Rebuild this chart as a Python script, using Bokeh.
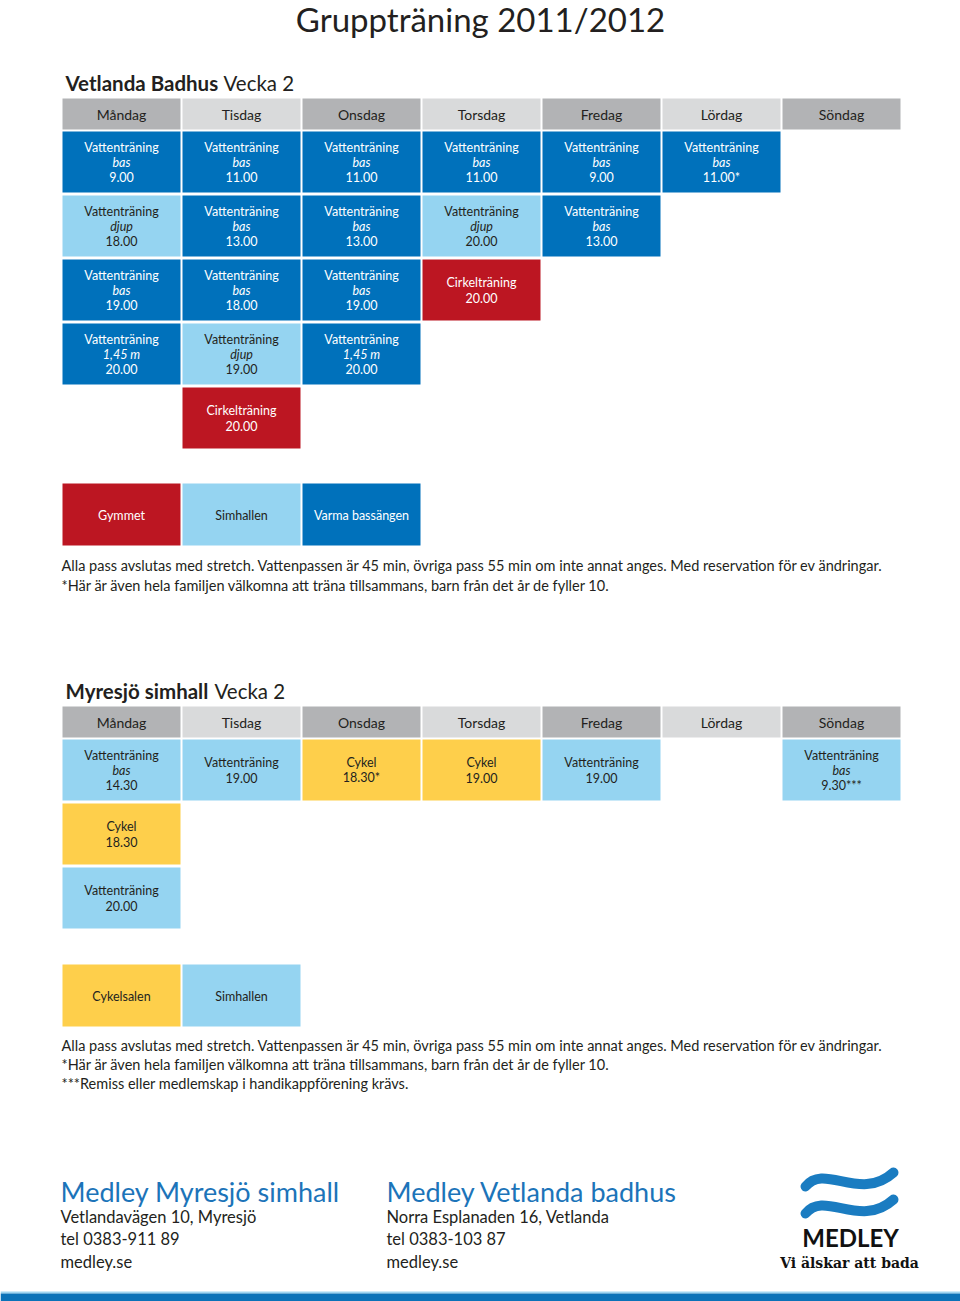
from bokeh.plotting import figure
from bokeh.models import Range1d, ColumnDataSource
from bokeh.core.properties import value
from bokeh.embed import file_html
from bokeh.resources import INLINE

# ---------------- data ----------------
days = ["Måndag", "Tisdag", "Onsdag", "Torsdag", "Fredag", "Lördag", "Söndag"]

# Vetlanda Badhus sessions
t1_day = [0, 0, 0, 0, 1, 1, 1, 1, 1, 2, 2, 2, 2, 3, 3, 3, 4, 4, 5]
t1_slot = [0, 1, 2, 3, 0, 1, 2, 3, 4, 0, 1, 2, 3, 0, 1, 2, 0, 1, 0]
t1_name = ["Vattenträning"] * 8 + ["Cirkelträning"] + ["Vattenträning"] * 6 + ["Cirkelträning"] + ["Vattenträning"] * 3
t1_sub = ["bas", "djup", "bas", "1,45 m", "bas", "bas", "bas", "djup", "",
          "bas", "bas", "bas", "1,45 m", "bas", "djup", "", "bas", "bas", "bas"]
t1_time = ["9.00", "18.00", "19.00", "20.00", "11.00", "13.00", "18.00", "19.00", "20.00",
           "11.00", "13.00", "19.00", "20.00", "11.00", "20.00", "20.00", "9.00", "13.00", "11.00*"]
t1_kind = ["dark", "light", "dark", "dark", "dark", "dark", "dark", "light", "red",
           "dark", "dark", "dark", "dark", "dark", "light", "red", "dark", "dark", "dark"]
t1_legend = ["Gymmet", "Simhallen", "Varma bassängen"]
t1_legend_kind = ["red", "light", "dark"]

# Myresjö simhall sessions
t2_day = [0, 0, 0, 1, 2, 3, 4, 6]
t2_slot = [0, 1, 2, 0, 0, 0, 0, 0]
t2_name = ["Vattenträning", "Cykel", "Vattenträning", "Vattenträning", "Cykel", "Cykel", "Vattenträning", "Vattenträning"]
t2_sub = ["bas", "", "", "", "", "", "", "bas"]
t2_time = ["14.30", "18.30", "20.00", "19.00", "18.30*", "19.00", "19.00", "9.30***"]
t2_kind = ["light", "yellow", "light", "light", "yellow", "yellow", "light", "light"]
t2_legend = ["Cykelsalen", "Simhallen"]
t2_legend_kind = ["yellow", "light"]

note_main = "Alla pass avslutas med stretch. Vattenpassen är 45 min, övriga pass 55 min om inte annat anges. Med reservation för ev ändringar."
note_star = "*Här är även hela familjen välkomna att träna tillsammans, barn från det år de fyller 10."
note_3star = "***Remiss eller medlemskap i handikappförening krävs."

# ---------------- style ----------------
FONT = "Lato"
COL = {"dark": "#0071bb", "light": "#95d4f1", "red": "#bc1622", "yellow": "#fecf4b"}
TXT = {"dark": "white", "light": "#231f20", "red": "white", "yellow": "#231f20"}
HEAD = ["#b2b3b5", "#d9dadb"]
INK = "#231f20"
BLUE = "#1c74b9"

PITCH = 120.0      # px per day column
X0 = 121.0         # page px of Måndag column centre


def X(px):
    return (px - X0) / PITCH


p = figure(width=960, height=1301, x_range=Range1d(X(0), X(960)), y_range=Range1d(1301, 0),
           toolbar_location=None, output_backend="svg", min_border=0)
p.axis.visible = False
p.grid.visible = False
p.outline_line_color = None
p.background_fill_color = "white"


def txt(x, y, t, size, color=INK, style="normal", align="left", font=FONT, baseline="middle"):
    p.text(x=[x], y=[y], text=[t], text_font=value(font), text_font_size=size,
           text_color=color, text_font_style=style, text_align=align, text_baseline=baseline)


def table(head_top, row_top, d_idx, s_idx, names, subs, times, kinds, leg, leg_kind, leg_top):
    cw = 118 / PITCH
    # headers
    p.rect(x=list(range(len(days))), y=[head_top + 15.5] * len(days), width=cw, height=31,
           fill_color=[HEAD[i % 2] for i in range(len(days))], line_color=None)
    p.text(x=list(range(len(days))), y=[head_top + 16] * len(days), text=days,
           text_font=value(FONT), text_font_size="14px", text_color=INK,
           text_align="center", text_baseline="middle")
    # cells
    cy = [row_top + 64 * s + 30.5 for s in s_idx]
    src = ColumnDataSource(dict(x=d_idx, y=cy, fill=[COL[k] for k in kinds],
                                tc=[TXT[k] for k in kinds]))
    p.rect(x="x", y="y", width=cw, height=61, fill_color="fill", line_color=None, source=src)
    l1x, l1y, l1t, l1c = [], [], [], []
    l2x, l2y, l2t, l2c = [], [], [], []
    for d, y, n, s, t, k in zip(d_idx, cy, names, subs, times, kinds):
        if s:
            l1x += [d, d]; l1y += [y - 15, y + 15]; l1t += [n, t]; l1c += [TXT[k]] * 2
            l2x.append(d); l2y.append(y); l2t.append(s); l2c.append(TXT[k])
        else:
            l1x += [d, d]; l1y += [y - 7.5, y + 7.5]; l1t += [n, t]; l1c += [TXT[k]] * 2
    p.text(x=l1x, y=l1y, text=l1t, text_color=l1c, text_font=value(FONT), text_font_size="12.5px",
           text_align="center", text_baseline="middle")
    if l2x:
        p.text(x=l2x, y=l2y, text=l2t, text_color=l2c, text_font=value(FONT), text_font_size="12.5px",
               text_font_style="italic", text_align="center", text_baseline="middle")
    # legend boxes
    lx = list(range(len(leg)))
    p.rect(x=lx, y=[leg_top + 31] * len(leg), width=cw, height=62,
           fill_color=[COL[k] for k in leg_kind], line_color=None)
    p.text(x=lx, y=[leg_top + 31.5] * len(leg), text=leg, text_color=[TXT[k] for k in leg_kind],
           text_font=value(FONT), text_font_size="12.5px", text_align="center", text_baseline="middle")


# title
txt(X(480), 18, "Gruppträning 2011/2012", "33px", align="center")

# section 1
txt(X(65), 82, "Vetlanda Badhus", "20.5px", style="bold")
txt(X(223), 82, "Vecka 2", "20.5px")
table(98, 131, t1_day, t1_slot, t1_name, t1_sub, t1_time, t1_kind, t1_legend, t1_legend_kind, 483)
txt(X(61), 565, note_main, "14.5px")
txt(X(61), 585, note_star, "14.5px")

# section 2
txt(X(65), 690, "Myresjö simhall", "20.5px", style="bold")
txt(X(214), 690, "Vecka 2", "20.5px")
table(706, 739, t2_day, t2_slot, t2_name, t2_sub, t2_time, t2_kind, t2_legend, t2_legend_kind, 964)
txt(X(61), 1045, note_main, "14.5px")
txt(X(61), 1064, note_star, "14.5px")
txt(X(61), 1083, note_3star, "14.5px")

# footer addresses
for fx, head, addr, tel in [(60, "Medley Myresjö simhall", "Vetlandavägen 10, Myresjö", "tel 0383-911 89"),
                            (386, "Medley Vetlanda badhus", "Norra Esplanaden 16, Vetlanda", "tel 0383-103 87")]:
    txt(X(fx), 1191, head, "27px", color=BLUE)
    txt(X(fx), 1216, addr, "16.5px")
    txt(X(fx), 1238, tel, "16.5px")
    txt(X(fx), 1261, "medley.se", "16.5px")

# logo
for dy in (0, 27):
    p.bezier(x0=[X(805)], y0=[1186 + dy], x1=[X(893)], y1=[1172 + dy],
             cx0=[X(824)], cy0=[1162 + dy], cx1=[X(860)], cy1=[1202 + dy],
             line_color="#1a7cc1", line_width=10, line_cap="round")
txt(X(850), 1237, "MEDLEY", "24px", color="#111111", align="center", style="bold")
txt(X(849), 1262, "Vi älskar att bada", "14px", color="#111111", align="center",
    style="bold", font="DejaVu Serif")

# bottom bar
p.rect(x=[X(480)], y=[1292], width=960 / PITCH, height=2, fill_color="#9fd5f1", line_color=None)
p.rect(x=[X(480)], y=[1297.5], width=960 / PITCH, height=9, fill_color="#0b72b8", line_color=None)

open("out.html", "w").write(file_html(p, INLINE))
